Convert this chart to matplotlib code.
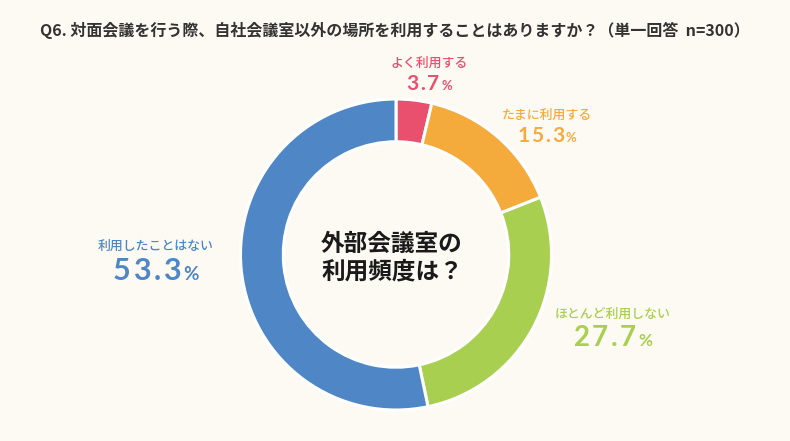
import matplotlib
matplotlib.use('Agg')
import matplotlib.pyplot as plt

plt.rcParams['font.family'] = ['Noto Sans CJK JP', 'DejaVu Sans']

# データ
labels = ['よく利用する', 'たまに利用する', 'ほとんど利用しない', '利用したことはない']
values = [3.7, 15.3, 27.7, 53.3]
colors = ['#e8506e', '#f5ab3c', '#a8cf4f', '#4e86c6']
title = 'Q6. 対面会議を行う際、自社会議室以外の場所を利用することはありますか？（単一回答  n=300）'
center_lines = ['外部会議室の', '利用頻度は？']

bg = '#fdfaf3'
W, H = 790, 441
fig = plt.figure(figsize=(7.9, 4.41), dpi=100, facecolor=bg)

# ドーナツの位置（ピクセル）
cx, cy, r = 396, 254.5, 155.5
ax = fig.add_axes([(cx - r) / W, (H - cy - r) / H, 2 * r / W, 2 * r / H])
ax.set_facecolor(bg)
ax.pie(values, colors=colors, startangle=90, counterclock=False, radius=1,
       wedgeprops=dict(width=0.275, edgecolor='white', linewidth=2.2))
ax.set_xlim(-1, 1)
ax.set_ylim(-1, 1)
ax.set_aspect('equal')
ax.axis('off')

fig.text(0.5, 1 - 30 / H, title, ha='center', va='center', fontsize=11.5,
         fontweight='bold', color='#333333')
fig.text(392 / W, 1 - 244 / H, center_lines[0], ha='center', va='center',
         fontsize=17, fontweight='bold', color='#1a1a1a')
fig.text(392 / W, 1 - 271 / H, center_lines[1], ha='center', va='center',
         fontsize=17, fontweight='bold', color='#1a1a1a')

# ラベル位置（ピクセル）：中心x、名前のy、数値のベースラインy、数値サイズ
pos = [(429, 63, 90, 15), (547, 115, 142, 15), (613, 314, 346, 20), (156, 246, 280, 22)]

renderer = fig.canvas.get_renderer()


def put_number(txt, x, y, fs, c):
    # 1文字ずつ並べて字間を広げる
    parts = []
    for ch in txt:
        size = fs * 0.62 if ch == '%' else fs
        t = fig.text(0, 1 - y / H, ch, ha='left', va='baseline', fontsize=size,
                     color=c, family='Lato', fontweight='bold')
        w = t.get_window_extent(renderer).width
        parts.append((t, w))
    gap = fs * 0.12
    total = sum(w for _, w in parts) + gap * (len(parts) - 1)
    cur = x - total / 2
    for t, w in parts:
        t.set_x(cur / W)
        cur += w + gap


for lab, v, c, (x, ly, ny, fs) in zip(labels, values, colors, pos):
    fig.text(x / W, 1 - ly / H, lab, ha='center', va='center', fontsize=9.3,
             color=c, fontweight='medium')
    put_number(f'{v:.1f}%', x, ny, fs, c)

fig.savefig('out.png', dpi=100, facecolor=bg)
